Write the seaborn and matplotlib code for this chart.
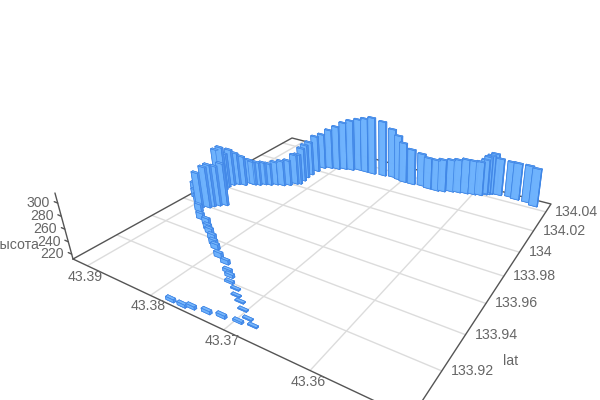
import numpy as np
import matplotlib
matplotlib.use("Agg")
import matplotlib.pyplot as plt
import seaborn as sns
from mpl_toolkits.mplot3d import proj3d

sns.set_theme(style="white")
plt.rcParams['font.family'] = ['Liberation Sans', 'DejaVu Sans']

lat_ticks = [43.36, 43.37, 43.38, 43.39]
lon_ticks = [133.92, 133.94, 133.96, 133.98, 134.0, 134.02, 134.04]
lon_labels = ['133.92', '133.94', '133.96', '133.98', '134', '134.02', '134.04']
z_ticks = [220, 240, 260, 280, 300]
lat_lim = (43.3502, 43.3925)
lon_lim = (133.898, 134.049)
z_lim = (212, 315)

lat = [43.3776,43.3760,43.3750,43.3732,43.3715,43.3696,43.3691,43.3680,43.3704,43.3715,43.3725,43.3733,43.3746,43.3753,
       43.3761,43.3774,43.3789,43.3804,43.3812,43.3822,43.3834,43.3842,43.3852,43.3867,43.3883,43.3901,43.3913,43.3928,
       43.3889,43.3881,43.3878,43.3873,43.3866,43.3903,43.3897,43.3899,43.3897,43.3892,43.3883,43.3877,43.3872,43.3866,
       43.3860,43.3853,43.3846,43.3837,43.3830,43.3824,43.3820,43.3821,43.3823,43.3823,43.3822,43.3820,43.3811,43.3800,
       43.3791,43.3781,43.3771,43.3760,43.3748,43.3732,43.3718,43.3707,43.3698,43.3685,43.3671,43.3660,43.3648,43.3640,
       43.3630,43.3621,43.3611,43.3601,43.3593,43.3588,43.3585,43.3582,43.3578,43.3571,43.3556,43.3547,43.3532,43.3521]
lon = [133.900,133.900,133.901,133.902,133.903,133.904,133.907,133.905,133.910,133.913,133.915,133.918,133.920,133.923,
       133.925,133.929,133.931,133.935,133.937,133.940,133.943,133.945,133.948,133.950,133.955,133.961,133.964,133.969,
       133.958,133.960,133.962,133.964,133.966,133.977,133.978,133.981,133.984,133.986,133.987,133.990,133.990,133.991,
       133.993,133.994,133.996,133.997,133.999,134.002,134.003,134.007,134.011,134.015,134.020,134.025,134.027,134.028,
       134.030,134.031,134.033,134.033,134.033,134.034,134.035,134.034,134.033,134.033,134.034,134.033,134.033,134.034,
       134.036,134.037,134.038,134.039,134.040,134.042,134.043,134.044,134.045,134.045,134.046,134.045,134.045,134.043]
height = [216.6,216.6,216.6,216.6,216.5,215.0,213.5,213.5,213.5,213.5,213.6,213.6,215.2,216.8,216.8,218.5,220.3,220.4,
          220.5,220.5,220.6,220.7,222.5,222.7,224.6,226.7,226.9,227.1,273.0,282.8,284.8,281.3,285.5,284.1,288.8,273.0,
          277.0,269.7,264.8,256.2,254.3,253.7,252.4,251.2,253.7,256.7,257.4,265.5,266.2,272.1,272.6,273.1,278.1,276.6,
          284.9,292.9,300.3,305.7,308.2,312.6,317.1,312.8,301.5,293.7,284.2,275.9,270.8,268.0,267.7,269.5,269.4,271.0,
          273.3,272.1,271.9,274.4,279.2,281.1,284.1,277.3,274.6,276.6,276.8,278.0]

# camera: where the floor corners and the vertical vanishing point fall on the canvas
left, back, right, front = (73, 259), (292, 138), (551, 204), (411, 418)
vp = (385, 1400)
top_left_v = 193


def dlt(src, dst):
    A = []
    for (s, t), (u, v) in zip(src, dst):
        A.append([s, t, 1, 0, 0, 0, -u*s, -u*t, -u])
        A.append([0, 0, 0, s, t, 1, -v*s, -v*t, -v])
    return np.linalg.svd(np.array(A, float))[2][-1].reshape(3, 3)


G = dlt([(1, 0), (1, 1), (0, 1), (0, 0)], [left, back, right, front])
if (G @ np.array([1, 0, 1]))[2] < 0:
    G = -G
w_left = (G @ np.array([1, 0, 1]))[2]
k = (top_left_v - left[1]) / (vp[1] - top_left_v) * w_left
col_z = k * np.array([vp[0], vp[1], 1.0])

lat = np.array(lat); lon = np.array(lon); height = np.array(height)

fig = plt.figure(figsize=(6, 4), dpi=100)
ax = fig.add_axes([0, -0.25, 1, 1.5], projection='3d')
ax.set_proj_type('ortho')
ax.set_axis_off()
ax.patch.set_alpha(0)
ax.computed_zorder = False
ax.apply_aspect()

dx, dy = 0.0011, 0.0012
palette = ['#5b9cf0', '#7ab8fb', '#6fb3fd', '#6fb3fd', '#4f92ee', '#4f92ee']
n = len(lat)
ax.bar3d(lat-dx/2, lon-dy/2, np.full(n, z_lim[0]), dx, dy, height-z_lim[0],
         color=palette*n, edgecolor='#3f86e6', linewidth=0.5, shade=False, alpha=0.95, zorder=5)

ax.set_xlim(*lat_lim); ax.set_ylim(*lon_lim); ax.set_zlim(*z_lim)

N = np.array([[1/(lat_lim[1]-lat_lim[0]), 0, 0, -lat_lim[0]/(lat_lim[1]-lat_lim[0])],
              [0, 1/(lon_lim[1]-lon_lim[0]), 0, -lon_lim[0]/(lon_lim[1]-lon_lim[0])],
              [0, 0, 1/(z_lim[1]-z_lim[0]), -z_lim[0]/(z_lim[1]-z_lim[0])],
              [0, 0, 0, 1]])
H = np.column_stack([G[:, 0], G[:, 1], col_z, G[:, 2]])
inv = ax.transData.inverted()
p0 = inv.transform((0, 400)); p1 = inv.transform((600, 0))
sx = (p1[0]-p0[0])/600; sy = (p1[1]-p0[1])/400
r1 = sx*H[0]+p0[0]*H[2]; r2 = sy*H[1]+p0[1]*H[2]; r4 = H[2]
r3 = H[2]-np.array([0, 0, 0, abs(w_left)*0.5])
M = np.vstack([r1, r2, r3, r4]) @ N
ax.get_proj = lambda: M
ax.M = M

grid = dict(color='#dcdcdc', lw=1.0, zorder=1)
edge = dict(color='#555555', lw=1.0, zorder=2)
for v in lat_ticks:
    ax.plot([v, v], lon_lim, [z_lim[0]]*2, **grid)
for v in lon_ticks:
    ax.plot(lat_lim, [v, v], [z_lim[0]]*2, **grid)
la0, la1 = lat_lim; lo0, lo1 = lon_lim; zz = z_lim[0]
ax.plot([la1, la1, la0, la0, la1], [lo0, lo1, lo1, lo0, lo0], [zz]*5, **edge)
ax.plot([la1, la1], [lo0, lo0], z_lim, **edge)


def label(x, y, z, s, ox, oy, ha):
    X, Y, _ = proj3d.proj_transform(x, y, z, M)
    ax.annotate(s, xy=(X, Y), xytext=(ox, oy), textcoords='offset pixels', ha=ha, va='center',
                annotation_clip=False, fontsize=10.2, color='#666666')


for v in lat_ticks:
    label(v, lo0, zz, f"{v:.2f}", -2, -11, 'center')
for v, s in zip(lon_ticks, lon_labels):
    label(la0, v, zz, s, 9, 0, 'left')
for v in z_ticks:
    label(la1, lo0, v, str(v), -8, 0, 'right')
    ax.plot([la1, la1+0.0006], [lo0, lo0], [v, v], **edge)
label(la0, 133.92, zz, 'lat', 69, 10, 'center')
label(la1, lo0, 250, 'высота', -28, -9, 'right')

fig.savefig('out.png', dpi=100)
